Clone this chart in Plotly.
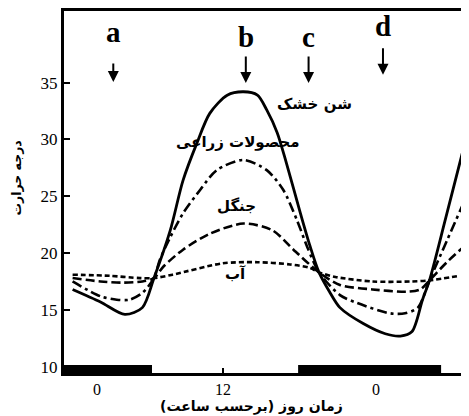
import plotly.graph_objects as go

# ---- data (hours on the chart's time axis, temperature in °C) ----
sand_hours = [-2.1, 0.3, 2.4, 3.9, 4.9, 6.3, 7.4, 8.6, 9.7, 11.2, 12.6, 13.8, 14.6, 15.5, 16.3,
              17.5, 18.3, 19.1, 20.0, 20.9, 22.9, 24.8, 26.1, 27.1, 28.0, 28.6, 30.0, 31.5]
sand_temp = [16.8, 15.7, 14.6, 15.2, 17.8, 22.0, 26.4, 29.7, 32.3, 33.9, 34.2, 33.9, 32.6, 30.6, 27.9,
             23.5, 20.7, 18.3, 16.6, 15.2, 13.8, 12.9, 12.7, 13.1, 15.9, 17.6, 23.1, 29.1]

crop_hours = [-2.1, 0.3, 1.7, 2.8, 3.9, 4.9, 5.4, 6.3, 7.4, 8.9, 10.3, 12.6, 14.6, 16.0, 17.2,
              18.1, 19.1, 20.9, 22.4, 25.2, 26.5, 27.6, 28.6, 30.1, 31.7]
crop_temp = [17.5, 16.2, 15.9, 15.9, 16.5, 17.8, 19.4, 21.4, 23.5, 25.6, 27.3, 28.2, 27.3, 25.6, 22.9,
             20.5, 18.3, 16.3, 15.6, 14.7, 14.7, 15.2, 17.6, 21.1, 24.8]

forest_hours = [-2.1, 0.3, 2.2, 3.9, 4.9, 5.7, 7.4, 9.7, 12.6, 15.1, 16.9, 19.1, 20.9, 23.7, 26.7,
                27.8, 28.6, 30.1, 31.7]
forest_temp = [17.8, 17.5, 17.4, 17.5, 17.8, 18.8, 20.3, 21.7, 22.6, 22.0, 20.3, 18.3, 17.2, 16.8, 16.6,
               16.8, 17.6, 19.2, 20.7]

water_hours = [-2.1, 1.1, 3.7, 4.9, 6.5, 10.8, 13.8, 16.6, 18.3, 19.1, 20.5, 23.7, 27.0, 28.6, 31.2]
water_temp = [18.1, 18.0, 17.8, 17.8, 18.1, 19.1, 19.2, 19.0, 18.7, 18.3, 17.9, 17.5, 17.5, 17.6, 18.0]

night_start = [-2.84, 17.3]
night_end = [4.73, 29.6]

arrow_labels = ["a", "b", "c", "d"]
arrow_hours = [1.4, 12.8, 18.2, 24.6]

y_ticks = [10, 15, 20, 25, 30, 35]
x_tick_pos = [0, 10.84, 24]
x_tick_text = ["0", "12", "0"]

x_title = "زمان روز (برحسب ساعت)"
y_title = "درجه حرارت"

x_range = [-2.84, 32.0]
y_range = [9.445, 41.31]

fig = go.Figure()

fig.add_trace(go.Scatter(x=water_hours, y=water_temp, mode="lines",
                         line=dict(color="black", width=2.6, dash="5px,3px", shape="spline", smoothing=0.8)))
fig.add_trace(go.Scatter(x=forest_hours, y=forest_temp, mode="lines",
                         line=dict(color="black", width=2.6, dash="9px,4px", shape="spline", smoothing=0.8)))
fig.add_trace(go.Scatter(x=crop_hours, y=crop_temp, mode="lines",
                         line=dict(color="black", width=2.6, dash="10px,4px,3px,4px", shape="spline", smoothing=0.8)))
fig.add_trace(go.Scatter(x=sand_hours, y=sand_temp, mode="lines",
                         line=dict(color="black", width=2.8, shape="spline", smoothing=0.8)))

# night bars on the time axis
for s, e in zip(night_start, night_end):
    fig.add_shape(type="rect", xref="x", yref="y", x0=s, x1=e, y0=y_range[0], y1=10.15,
                  fillcolor="black", line=dict(width=0))

annotations = []
label_y = {"a": 39.5, "b": 39.0, "c": 39.0, "d": 39.95}
tip_y = {"a": 35.06, "b": 34.97, "c": 34.97, "d": 35.7}
arrow_len = {"a": 20, "b": 28, "c": 28, "d": 28}
for lab, h in zip(arrow_labels, arrow_hours):
    annotations.append(dict(x=h, y=tip_y[lab], xref="x", yref="y", text="", showarrow=True,
                            ax=0, ay=-arrow_len[lab], arrowhead=2, arrowsize=1.1, arrowwidth=2,
                            arrowcolor="black"))
    annotations.append(dict(x=h, y=label_y[lab], xref="x", yref="y", text="<b>%s</b>" % lab,
                            showarrow=False, font=dict(family="Liberation Serif", size=29, color="black")))

pfont = dict(family="DejaVu Sans", size=15, color="black")
annotations += [
    dict(x=18.67, y=33.13, text="<b>شن خشک</b>", showarrow=False, font=pfont),
    dict(x=12.13, y=29.78, text="<b>محصولات زراعی</b>", showarrow=False, font=pfont),
    dict(x=12.04, y=24.15, text="<b>جنگل</b>", showarrow=False, font=pfont),
    dict(x=11.87, y=18.16, text="<b>آب</b>", showarrow=False, font=pfont),
    # axis titles
    dict(x=13.33, xref="x", y=0, yref="paper", yanchor="middle", yshift=-33,
         text="<b>%s</b>" % x_title, showarrow=False,
         font=dict(family="DejaVu Sans", size=14, color="black")),
    dict(x=0, xref="paper", xshift=-57, y=26.6, yref="y", textangle=-90,
         text="<b>%s</b>" % y_title, showarrow=False,
         font=dict(family="DejaVu Sans", size=12.5, color="black")),
]

# the page body adds an 8px offset on the left and top; size the figure to fit the window
fig.update_layout(
    width=461, height=408,
    margin=dict(l=56, r=0, t=3, b=43, autoexpand=False),
    paper_bgcolor="white", plot_bgcolor="white",
    showlegend=False,
    annotations=annotations,
    xaxis=dict(range=x_range, tickvals=x_tick_pos, ticktext=x_tick_text, automargin=False,
               showgrid=False, zeroline=False, showline=True, linecolor="black", linewidth=2.5,
               mirror=True, ticks="inside", ticklen=5, tickwidth=1.5, tickcolor="black",
               tickfont=dict(family="Liberation Serif", size=16, color="black")),
    yaxis=dict(range=y_range, tickvals=y_ticks, showgrid=False, zeroline=False, automargin=False,
               showline=True, linecolor="black", linewidth=3, mirror=False,
               ticks="inside", ticklen=6, tickwidth=2, tickcolor="black",
               tickfont=dict(family="Liberation Serif", size=17, color="black")),
)

fig.write_html("out.html")
